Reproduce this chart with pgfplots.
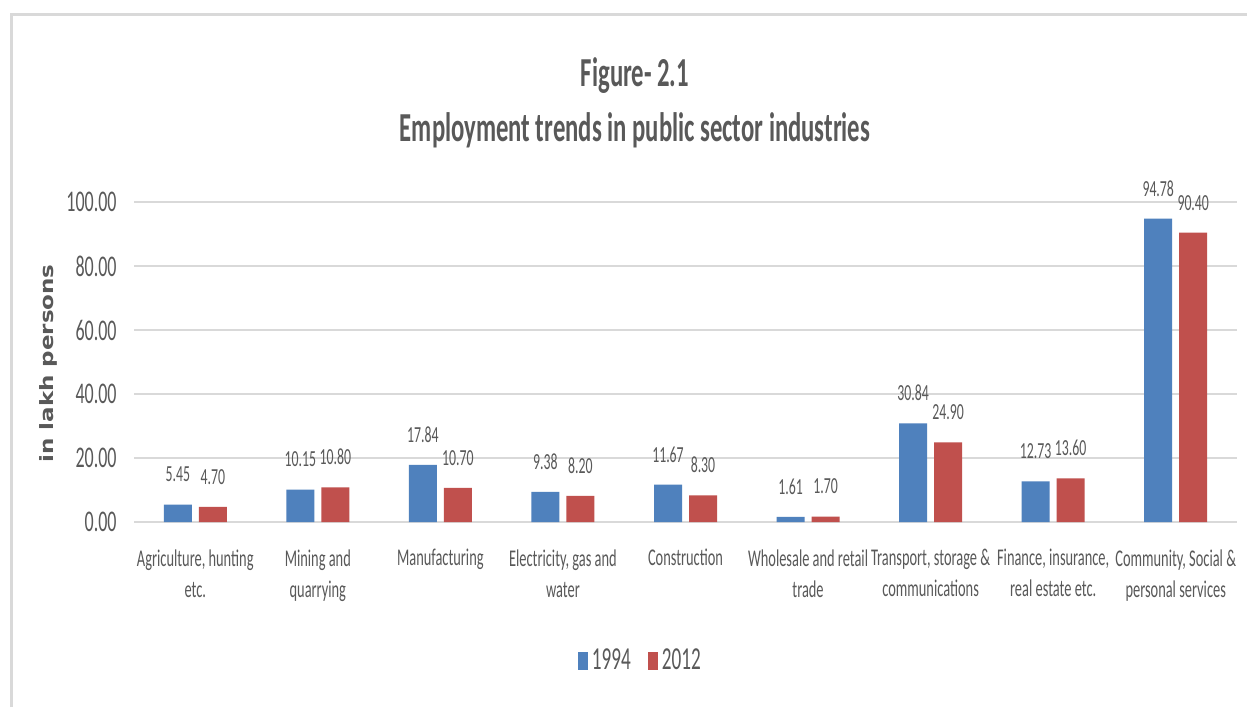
\documentclass[border=0pt]{standalone}
\usepackage{pgfplots}
\pgfplotsset{compat=1.18}
\usepackage{fontspec}
\setmainfont{Carlito}[FakeStretch=0.6]
\newfontfamily\ylfont{DejaVu Sans}
\definecolor{bblue}{HTML}{4F81BD}
\definecolor{bred}{HTML}{C0504D}
\definecolor{txt}{HTML}{595959}
\definecolor{gridc}{HTML}{D9D9D9}
\definecolor{framec}{HTML}{D9D9D9}
\begin{document}
\begin{tikzpicture}
\path[use as bounding box] (0,0) rectangle (623.5pt,353.5pt);
\fill[white] (0,0) rectangle (623.5pt,353.5pt);
\draw[framec, line width=1.5pt] (5.5pt,0) -- (5.5pt,346pt) -- (623.5pt,346pt);
\node[anchor=base, text=txt, font=\bfseries\fontsize{20.6}{25}\selectfont] at (317.5pt,310pt) {Figure- 2.1};
\node[anchor=base, text=txt, font=\bfseries\fontsize{20.6}{25}\selectfont] at (317.5pt,282.5pt) {Employment trends in public sector industries};
\node[rotate=90, text=txt, inner sep=0pt] at (24pt,171.75pt) {\scalebox{1}[0.8]{\ylfont\bfseries\fontsize{11.5}{14}\selectfont in lakh persons}};
\begin{axis}[
  at={(67pt,92.5pt)}, anchor=south west, scale only axis,
  width=551.5pt, height=160pt,
  ybar=3.5pt, bar width=14pt,
  xmin=-0.5, xmax=8.5, ymin=0, ymax=100,
  enlarge x limits=false,
  xtick={0,1,2,3,4,5,6,7,8},
  xticklabels={{Agriculture, hunting\\etc.},{Mining and\\quarrying},{Manufacturing},{Electricity, gas and\\water},{Construction},{Wholesale and retail\\trade},{Transport, storage \&\\communications},{Finance, insurance,\\real estate etc.},{Community, Social \&\\personal services}},
  ytick={0,20,40,60,80,100},
  ymajorgrids, grid style={gridc, line width=1pt},
  axis line style={draw=none}, major tick length=0pt,
  clip=false,
  yticklabel style={font=\fontsize{15}{18}\selectfont, text=txt, inner sep=0pt, xshift=-8.5pt},
  xticklabel style={font=\fontsize{12}{15.5}\selectfont, text=txt, align=center, anchor=north, inner sep=0pt, yshift=-13.5pt},
  /pgf/number format/fixed,
  /pgf/number format/fixed zerofill,
  /pgf/number format/precision=2,
  /pgf/number format/assume math mode=true,
  nodes near coords,
  every node near coord/.append style={font=\fontsize{11.5}{13}\selectfont, text=txt, anchor=south, inner sep=0pt, yshift=11pt},
  legend style={at={(0.46,-0.434)}, anchor=center, draw=none, fill=none, legend columns=2, font=\fontsize{16}{18}\selectfont, text=txt, /tikz/every even column/.append style={column sep=6.5pt}, nodes={inner sep=2pt}},
  legend image code/.code={\fill[#1] (0pt,-4.5pt) rectangle (5pt,4.5pt);},
]
\addplot[fill=bblue, draw=none] coordinates {(0,5.45) (1,10.15) (2,17.84) (3,9.38) (4,11.67) (5,1.61) (6,30.84) (7,12.73) (8,94.78)};
\addlegendentry{1994}
\addplot[fill=bred, draw=none] coordinates {(0,4.70) (1,10.80) (2,10.70) (3,8.20) (4,8.30) (5,1.70) (6,24.90) (7,13.60) (8,90.40)};
\addlegendentry{2012}
\end{axis}
\end{tikzpicture}
\end{document}
